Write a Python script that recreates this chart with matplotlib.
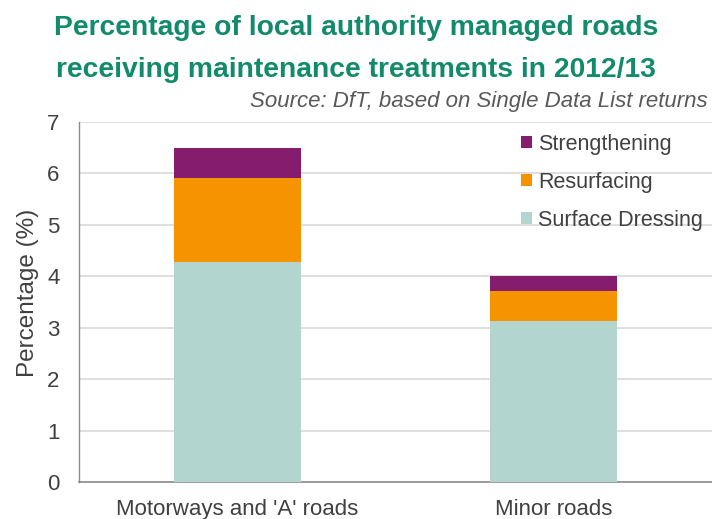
import matplotlib
matplotlib.use("Agg")
import matplotlib.pyplot as plt
import numpy as np

categories = ["Motorways and 'A' roads", "Minor roads"]
surface_dressing = [4.28, 3.13]
resurfacing = [1.63, 0.59]
strengthening = [0.59, 0.29]
yticks = [0, 1, 2, 3, 4, 5, 6, 7]

plt.rcParams['font.family'] = ['Liberation Sans', 'DejaVu Sans']

fig = plt.figure(figsize=(7.12, 5.19), dpi=100)
ax = fig.add_axes([79/712, 37/519, 633/712, 360/519])

x = np.arange(len(categories))
w = 0.4
c_sd, c_rs, c_st = '#b2d5cf', '#f59300', '#861c6e'
b1 = ax.bar(x, surface_dressing, w, color=c_sd, zorder=3)
b2 = ax.bar(x, resurfacing, w, bottom=surface_dressing, color=c_rs, zorder=3)
bot3 = np.array(surface_dressing) + np.array(resurfacing)
b3 = ax.bar(x, strengthening, w, bottom=bot3, color=c_st, zorder=3)

ax.set_xlim(-0.5, 1.5)
ax.set_ylim(0, 7)
ax.set_yticks(yticks)
ax.set_xticks(x)
ax.set_xticklabels(categories)
ax.tick_params(axis='both', length=0, labelsize=16, colors='#404040')
ax.tick_params(axis='y', pad=14)
ax.tick_params(axis='x', pad=12)
ax.yaxis.grid(True, color='#d9d9d9', linewidth=1.2, zorder=0)
for s in ['top', 'right']:
    ax.spines[s].set_visible(False)
ax.spines['left'].set_color('#8c8c8c')
ax.spines['bottom'].set_color('#8c8c8c')
ax.spines['left'].set_linewidth(1.0)
ax.spines['bottom'].set_linewidth(1.2)
ax.set_ylabel('Percentage (%)', fontsize=17.5, color='#404040', va='center')
ax.yaxis.set_label_coords((28-79)/633, (482-293)/360)

leg = fig.legend([b3, b2, b1], ['Strengthening', 'Resurfacing', 'Surface Dressing'],
                 loc='upper left', bbox_to_anchor=(521/712, 1-134/519),
                 bbox_transform=fig.transFigure, frameon=False, borderpad=0,
                 borderaxespad=0, fontsize=15.5, handlelength=0.5, handleheight=0.5,
                 handletextpad=0.3, labelspacing=0.78, labelcolor='#404040')

title_kw = dict(ha='center', va='baseline', fontsize=20.3, fontweight='bold', color='#128a6c')
fig.text(356/712, 1-35/519, 'Percentage of local authority managed roads', **title_kw)
fig.text(356/712, 1-77/519, 'receiving maintenance treatments in 2012/13', **title_kw)
fig.text(708/712, 1-102/519, 'Source: DfT, based on Single Data List returns',
         ha='right', va='center', fontsize=16, style='italic', color='#595959')

fig.savefig('out.png', dpi=100)
